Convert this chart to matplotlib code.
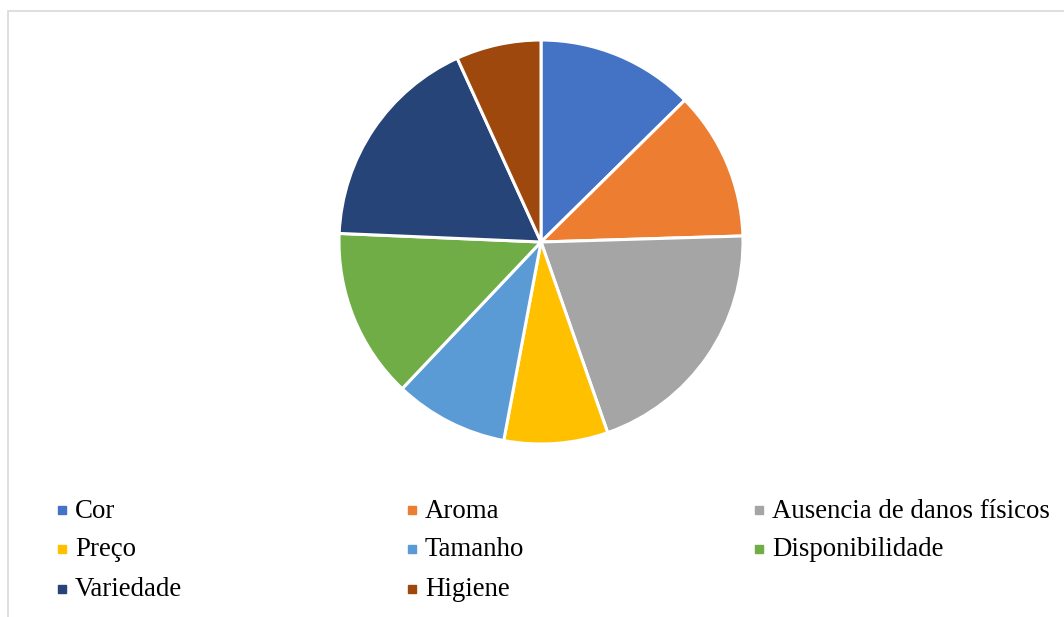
import matplotlib.pyplot as plt
from matplotlib.patches import Rectangle

# dados (percentagens)
labels = ['Cor', 'Aroma', 'Ausencia de danos físicos', 'Preço', 'Tamanho',
          'Disponibilidade', 'Variedade', 'Higiene']
values = [12.6, 11.9, 20.1, 8.3, 9.1, 13.6, 17.5, 6.8]
colors = ['#4472C4', '#ED7D31', '#A5A5A5', '#FFC000', '#5B9BD5',
          '#70AD47', '#264478', '#9E480E']

W, H = 1064, 617
fig = plt.figure(figsize=(W / 100, H / 100), dpi=100)

# borda cinza clara da area do grafico
fig.patches.append(Rectangle((8 / W, -0.1), 1.2, (H - 11) / H + 0.1,
                             transform=fig.transFigure, fill=False,
                             edgecolor='#D9D9D9', linewidth=1.2))

cx, cy, r = 541, 242, 202
ax = fig.add_axes([(cx - r) / W, (H - cy - r) / H, 2 * r / W, 2 * r / H])
ax.pie(values, colors=colors, startangle=90, counterclock=False, radius=1,
       wedgeprops=dict(edgecolor='white', linewidth=2.2))
ax.set_xlim(-1, 1)
ax.set_ylim(-1, 1)
ax.set_aspect('equal')
ax.axis('off')

# legenda manual em 3 colunas
col_x = [58, 408, 755]
row_y = [510, 549, 589]
for i, (lab, c) in enumerate(zip(labels, colors)):
    x = col_x[i % 3]
    y = row_y[i // 3]
    fig.patches.append(Rectangle((x / W, (H - y - 4) / H), 8 / W, 8 / H,
                                 transform=fig.transFigure, color=c))
    fig.text((x + 17) / W, (H - y - 1) / H, lab, fontsize=19.4,
             family='Liberation Serif', va='center', ha='left')

fig.savefig('out.png', dpi=100)
